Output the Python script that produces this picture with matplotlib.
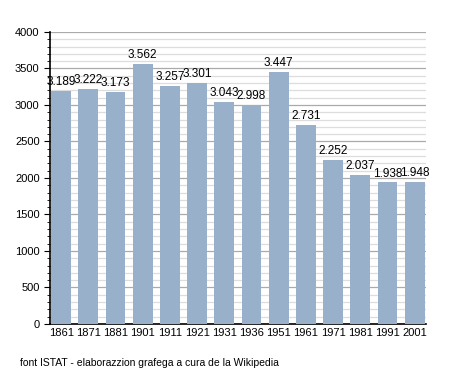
import matplotlib
matplotlib.use('Agg')
import matplotlib.pyplot as plt
from matplotlib.ticker import MultipleLocator

plt.rcParams['font.family'] = ['Liberation Sans', 'DejaVu Sans']

# dati
years = ['1861', '1871', '1881', '1901', '1911', '1921', '1931',
         '1936', '1951', '1961', '1971', '1981', '1991', '2001']
population = [3189, 3222, 3173, 3562, 3257, 3301, 3043,
              2998, 3447, 2731, 2252, 2037, 1938, 1948]

fig = plt.figure(figsize=(4.55, 3.73), dpi=100)
ax = fig.add_axes([0.1099, 0.1314, 0.826, 0.783])

x = range(len(years))
bars = ax.bar(x, population, width=0.73, color='#98b0c9', zorder=3)

for xi, v in zip(x, population):
    lab = f"{v:,}".replace(',', '.')
    ax.text(xi, v + 40, lab, ha='center', va='bottom', fontsize=8.5, zorder=4)

ax.set_xlim(-0.41, len(years) - 0.59)
ax.set_ylim(0, 4000)
ax.set_xticks(list(x))
ax.set_xticklabels(years, fontsize=8)
ax.yaxis.set_major_locator(MultipleLocator(500))
ax.yaxis.set_minor_locator(MultipleLocator(100))
ax.tick_params(axis='y', labelsize=8, length=4, color='black')
ax.tick_params(axis='y', which='minor', length=2)
ax.tick_params(axis='x', length=0, pad=3)

ax.grid(axis='y', which='major', color='#aaaaaa', linewidth=0.9, zorder=0)
ax.grid(axis='y', which='minor', color='#dddddd', linewidth=0.9, zorder=0)

for s in ['top', 'right']:
    ax.spines[s].set_visible(False)
ax.spines['left'].set_linewidth(1.2)
ax.spines['bottom'].set_linewidth(1.2)

fig.text(0.044, 0.019, 'font ISTAT - elaborazzion grafega a cura de la Wikipedia', fontsize=7.5)

plt.savefig('out.png', dpi=100)
